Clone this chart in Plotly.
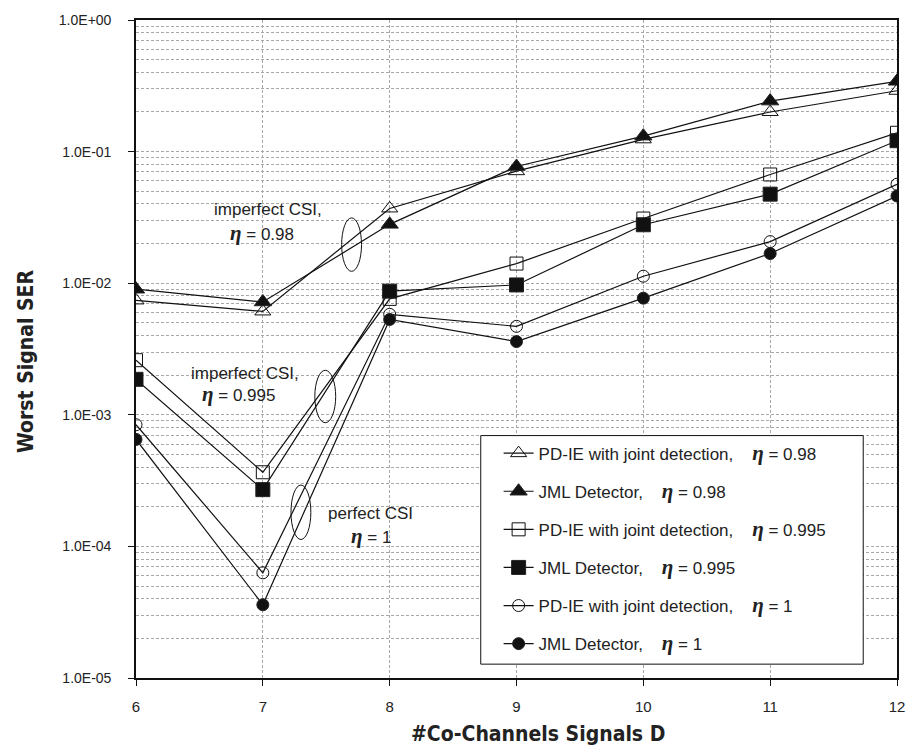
import plotly.graph_objects as go

# ---------------- data ----------------
D = [6, 7, 8, 9, 10, 11, 12]
pdie_098 = [0.0074, 0.0061, 0.037, 0.071, 0.124, 0.200, 0.290]
jml_098 = [0.0090, 0.0072, 0.028, 0.077, 0.131, 0.242, 0.342]
pdie_0995 = [0.0026, 0.000366, 0.0076, 0.0141, 0.031, 0.067, 0.139]
jml_0995 = [0.00186, 0.00027, 0.0087, 0.0097, 0.0278, 0.0475, 0.121]
pdie_1 = [0.00084, 0.000063, 0.0058, 0.0047, 0.0113, 0.0207, 0.0565]
jml_1 = [0.00065, 0.000036, 0.0053, 0.0036, 0.0077, 0.0168, 0.046]

ytick_vals = [1e-5, 1e-4, 1e-3, 1e-2, 1e-1, 1]
ytick_text = ["1.0E-05", "1.0E-04", "1.0E-03", "1.0E-02", "1.0E-01", "1.0E+00"]
xtick_vals = [6, 7, 8, 9, 10, 11, 12]

# ---------------- layout helpers ----------------
W, H = 917, 749
L, R, T, B = 136, 15, 13, 71
PW, PH = W - L - R, H - T - B


def px(p):
    return (p - L) / PW


def py(p):
    return 1 - (p - T) / PH


SANS = "Liberation Sans, Arial, sans-serif"
ETA = "<b><i><span style=\"font-family:'Liberation Serif','DejaVu Serif',serif;font-size:21px\">η</span></i></b>"
SP = "\u00a0" * 4


def lname(base, eta):
    return f"{base},{SP}{ETA} = {eta}"


series = [
    (lname("PD-IE with joint detection", "0.98"), pdie_098, "triangle-up-open", 14),
    (lname("JML Detector", "0.98"), jml_098, "triangle-up", 15),
    (lname("PD-IE with joint detection", "0.995"), pdie_0995, "square-open", 13),
    (lname("JML Detector", "0.995"), jml_0995, "square", 14),
    (lname("PD-IE with joint detection", "1"), pdie_1, "circle-open", 12),
    (lname("JML Detector", "1"), jml_1, "circle", 12),
]

fig = go.Figure()
for i, (name, vals, sym, size) in enumerate(series):
    fig.add_trace(go.Scatter(
        x=D, y=vals, name=name, mode="lines+markers",
        legendgroup=f"g{i}",
        line=dict(color="#111", width=1.2),
        marker=dict(symbol=sym, size=size, color="#111",
                    line=dict(color="#222", width=1)),
    ))

grid = "#a8a8a8"
fig.update_layout(
    width=W, height=H, autosize=False,
    margin=dict(l=L, r=R, t=T, b=B, pad=0),
    paper_bgcolor="white", plot_bgcolor="white",
    font=dict(family=SANS, size=14, color="#222"),
    showlegend=True,
    legend=dict(
        x=px(501), y=py(433), xanchor="left", yanchor="top",
        bgcolor="rgba(0,0,0,0)", borderwidth=0,
        font=dict(family=SANS, size=17, color="#222"),
        tracegroupgap=13, itemwidth=30,
    ),
    xaxis=dict(
        range=[6, 12], tickmode="array", tickvals=xtick_vals,
        ticks="outside", ticklen=6, tickcolor="#111", tickwidth=1,
        ticklabelstandoff=8,
        showline=True, linecolor="#111", linewidth=1.6, mirror=True,
        showgrid=True, gridcolor=grid, griddash="3px,2px", gridwidth=1,
        zeroline=False, tickfont=dict(size=15, family=SANS, color="#222"),
    ),
    yaxis=dict(
        type="log", range=[-5, 0], tickmode="array",
        tickvals=ytick_vals, ticktext=ytick_text,
        ticks="outside", ticklen=6, tickcolor="#111", tickwidth=1,
        ticklabelstandoff=14,
        showline=True, linecolor="#111", linewidth=1.6, mirror=True,
        showgrid=True, gridcolor=grid, griddash="3px,2px", gridwidth=1,
        minor=dict(dtick="D1", showgrid=True, gridcolor=grid,
                   griddash="3px,2px", gridwidth=1, ticks=""),
        zeroline=False, tickfont=dict(size=14, family=SANS, color="#222"),
    ),
)

# legend frame
fig.add_shape(type="rect", xref="paper", yref="paper",
              x0=px(483), x1=px(868), y0=py(433), y1=py(664),
              line=dict(color="#111", width=1), fillcolor="white", layer="above")

# ellipses
for (x0, x1, y0, y1) in [(343, 363, 213, 267), (316, 337, 367, 420), (292, 312, 483, 538)]:
    fig.add_shape(type="circle", xref="paper", yref="paper",
                  x0=px(x0), x1=px(x1), y0=py(y0), y1=py(y1),
                  line=dict(color="#111", width=1))

ann = [
    ("imperfect CSI,", 269, 205),
    (f"{ETA} = 0.98", 263, 228),
    ("imperfect CSI,", 246, 370),
    (f"{ETA} = 0.995", 239, 391),
    ("perfect CSI", 372, 512),
    (f"{ETA} = 1", 373, 534),
]
for txt, ax_, ay_ in ann:
    fig.add_annotation(text=txt, x=px(ax_), y=py(ay_), xref="paper", yref="paper",
                       showarrow=False, xanchor="center", yanchor="middle",
                       font=dict(family=SANS, size=17, color="#222"))

TITLE_FONT = dict(family="Liberation Sans Narrow, Arial Narrow, DejaVu Sans Condensed, sans-serif",
                  size=21, color="#222")
fig.add_annotation(text="<b>#Co-Channels Signals D</b>", x=px(541), y=py(735),
                   xref="paper", yref="paper", showarrow=False,
                   xanchor="center", yanchor="middle", font=TITLE_FONT)
fig.add_annotation(text="<b>Worst Signal SER</b>", x=px(26), y=py(358),
                   xref="paper", yref="paper", showarrow=False, textangle=-90,
                   xanchor="center", yanchor="middle", font=TITLE_FONT)

fig.write_html("out.html")
